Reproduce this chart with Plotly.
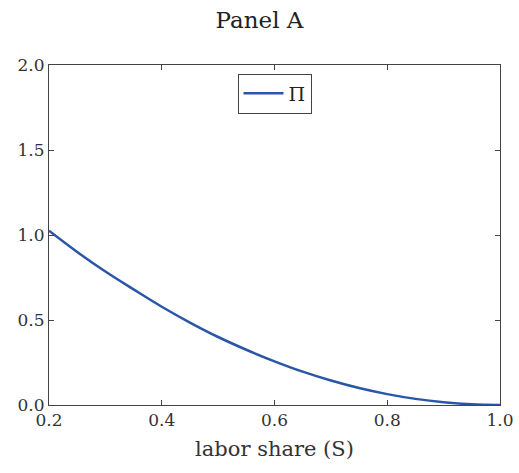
import plotly.graph_objects as go

labor_share = [0.2, 0.25, 0.3, 0.35, 0.4, 0.45, 0.5, 0.55, 0.6, 0.65, 0.7, 0.75, 0.8, 0.85, 0.9, 0.95, 1.0]
profit = [1.025, 0.90, 0.785, 0.68, 0.578, 0.485, 0.40, 0.325, 0.257, 0.196, 0.144, 0.100, 0.064, 0.036, 0.016, 0.004, 0.0]

x_ticks = [0.2, 0.4, 0.6, 0.8, 1.0]
y_ticks = [0.0, 0.5, 1.0, 1.5, 2.0]

font_family = "DejaVu Serif"
color = "#2a56a8"

fig = go.Figure()
fig.add_trace(go.Scatter(x=labor_share, y=profit, mode="lines", name="Π",
                         line=dict(color=color, width=2.5, shape="spline")))

axis_common = dict(showline=True, linecolor="#444", linewidth=1, mirror="ticks",
                   ticks="inside", ticklen=5, tickcolor="#444", showgrid=False,
                   zeroline=False, automargin=False,
                   tickfont=dict(family=font_family, size=17, color="#333"))

fig.update_layout(
    width=519, height=473,
    margin=dict(l=49, r=19, t=65, b=68),
    paper_bgcolor="white", plot_bgcolor="white",
    title=dict(text="Panel A", x=0.5, xanchor="center", y=0.958, yanchor="middle",
               font=dict(family=font_family, size=23, color="#222")),
    xaxis=dict(range=[0.2, 1.0], tickvals=x_ticks, ticktext=[f"{v:.1f}" for v in x_ticks],
               title=dict(text="labor share (S)", font=dict(family=font_family, size=21, color="#333"), standoff=11),
               **axis_common),
    yaxis=dict(range=[0, 2.0], tickvals=y_ticks, ticktext=[f"{v:.1f}" for v in y_ticks],
               **axis_common),
    showlegend=True,
    legend=dict(x=0.5, y=0.975, xanchor="center", yanchor="top", bgcolor="white",
                bordercolor="#444", borderwidth=1,
                font=dict(family=font_family, size=19, color="#222"),
                itemwidth=40, tracegroupgap=0),
)

fig.write_html("out.html")
